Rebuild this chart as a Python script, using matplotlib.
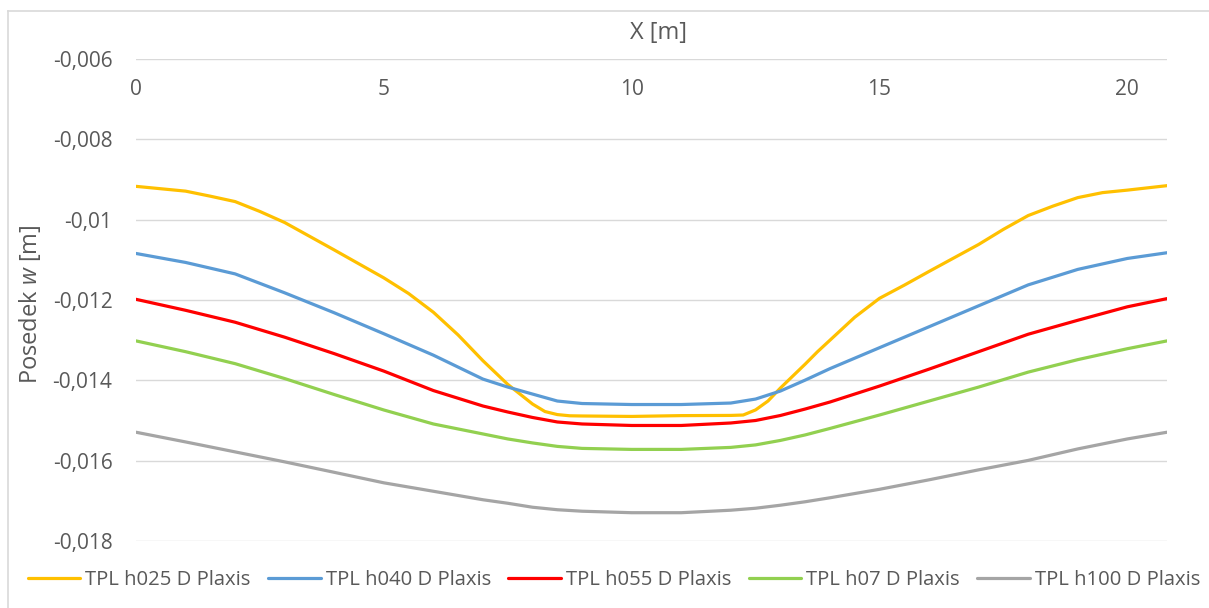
import matplotlib
matplotlib.use("Agg")
import matplotlib.pyplot as plt
from matplotlib.ticker import FuncFormatter
from matplotlib.lines import Line2D

# ---- data ----
x_h025 = [0, 1, 1.5, 2, 2.5, 3, 4, 5, 5.5, 6, 6.5, 7, 7.5, 8, 8.25, 8.5, 8.75,
          9, 10, 11, 12, 12.25, 12.5, 12.75, 13, 13.25, 13.5, 13.75, 14, 14.5,
          15, 15.5, 16, 17, 17.5, 18, 18.5, 19, 19.5, 20, 20.8]
h025 = [-0.009174, -0.009293, -0.009419, -0.009553, -0.009799, -0.010074,
        -0.010756, -0.011450, -0.011839, -0.012305, -0.012871, -0.013511,
        -0.014098, -0.014587, -0.014773, -0.014849, -0.014879, -0.014884,
        -0.014895, -0.014875, -0.014870, -0.014860, -0.014733, -0.014512,
        -0.014190, -0.013892, -0.013595, -0.013285, -0.013000, -0.012429,
        -0.011958, -0.011631, -0.011289, -0.010619, -0.010243, -0.009900,
        -0.009665, -0.009454, -0.009330, -0.009268, -0.009157]

x_m = [0, 1, 2, 3, 4, 5, 6, 7, 7.5, 8, 8.5, 9, 10, 11, 12, 12.5, 13, 13.5,
       14, 15, 16, 17, 18, 19, 20, 20.8]

h040 = [-0.010843, -0.011066, -0.011351, -0.011822, -0.012318, -0.012839,
        -0.013372, -0.013967, -0.014165, -0.014339, -0.014512, -0.014574,
        -0.014599, -0.014599, -0.014562, -0.014463, -0.014264, -0.013992,
        -0.013707, -0.013186, -0.012665, -0.012144, -0.011624, -0.011239,
        -0.010967, -0.010825]

h055 = [-0.011983, -0.012256, -0.012553, -0.012925, -0.013334, -0.013768,
        -0.014252, -0.014636, -0.014785, -0.014921, -0.015033, -0.015083,
        -0.015120, -0.015120, -0.015058, -0.014996, -0.014872, -0.014711,
        -0.014537, -0.014140, -0.013719, -0.013285, -0.012851, -0.012504,
        -0.012169, -0.011966]

h07 = [-0.013017, -0.013285, -0.013583, -0.013954, -0.014351, -0.014735,
       -0.015083, -0.015331, -0.015455, -0.015554, -0.015640, -0.015690,
       -0.015715, -0.015715, -0.015665, -0.015603, -0.015492, -0.015355,
       -0.015194, -0.014860, -0.014512, -0.014165, -0.013793, -0.013483,
       -0.013211, -0.013017]

h100 = [-0.015288, -0.015529, -0.015777, -0.016025, -0.016285, -0.016546,
        -0.016756, -0.016967, -0.017054, -0.017153, -0.017215, -0.017252,
        -0.017289, -0.017289, -0.017227, -0.017178, -0.017103, -0.017017,
        -0.016918, -0.016707, -0.016471, -0.016223, -0.015988, -0.015703,
        -0.015455, -0.015288]

series_labels = ["TPL h025 D Plaxis", "TPL h040 D Plaxis", "TPL h055 D Plaxis",
                 "TPL h07 D Plaxis", "TPL h100 D Plaxis"]
series_colors = ["#FFC000", "#5B9BD5", "#FF0000", "#92D050", "#A5A5A5"]

x_ticks = [0, 5, 10, 15, 20]
y_ticks = [-0.006, -0.008, -0.010, -0.012, -0.014, -0.016, -0.018]

# ---- style ----
plt.rcParams['font.family'] = ['Open Sans', 'DejaVu Sans']
plt.rcParams['mathtext.fontset'] = 'custom'
plt.rcParams['mathtext.it'] = 'Open Sans:italic'
plt.rcParams['mathtext.rm'] = 'Open Sans'
TXT = "#595959"
GRID = "#D9D9D9"
FS_TICK = 15
FS_LEG = 14.6
FS_TITLE = 17

W, H = 1209, 608
fig = plt.figure(figsize=(W / 100, H / 100), dpi=100)
ax = fig.add_axes([136 / W, 1 - 541.3 / H, (1167 - 136) / W, (541.3 - 58.7) / H])

xs_all = [x_h025, x_m, x_m, x_m, x_m]
ys_all = [h025, h040, h055, h07, h100]
for xs, ys, lab, col in zip(xs_all, ys_all, series_labels, series_colors):
    ax.plot(xs, ys, color=col, lw=2.3, label=lab, solid_capstyle='round',
            solid_joinstyle='round', zorder=3)

ax.set_xlim(0, 20.8)
ax.set_ylim(-0.018, -0.006)
ax.set_yticks(y_ticks)
ax.set_xticks(x_ticks)
ax.yaxis.set_major_formatter(FuncFormatter(lambda v, p: ('%g' % v).replace('.', ',')))
ax.xaxis.set_major_formatter(FuncFormatter(lambda v, p: '%g' % v))
ax.grid(axis='y', color=GRID, lw=1.0, zorder=0)
ax.grid(axis='x', visible=False)
for s in ax.spines.values():
    s.set_visible(False)
ax.tick_params(axis='y', length=0, pad=17, labelsize=FS_TICK, labelcolor=TXT)
ax.tick_params(axis='x', length=0, top=True, bottom=False, labeltop=True,
               labelbottom=False, pad=-30, labelsize=FS_TICK, labelcolor=TXT)

fig.text(659 / W, 1 - 33 / H, "X [m]", ha='center', va='center', fontsize=FS_TITLE, color=TXT)
fig.text(30 / W, 1 - 304 / H, "Posedek $w$ [m]", ha='center', va='center',
         rotation=90, fontsize=FS_TITLE, color=TXT)

# outer chart border
fig.add_artist(Line2D([8 / W, 1.0], [1 - 10.5 / H, 1 - 10.5 / H], color=GRID, lw=1.2,
                      transform=fig.transFigure))
fig.add_artist(Line2D([8 / W, 8 / W], [0, 1 - 10.5 / H], color=GRID, lw=1.2,
                      transform=fig.transFigure))

handles, labels = ax.get_legend_handles_labels()
leg = fig.legend(handles, labels, loc='center', bbox_to_anchor=(614 / W, 1 - 580 / H),
                 ncol=5, frameon=False, fontsize=FS_LEG, handlelength=2.6,
                 handletextpad=0.25, columnspacing=0.85, borderaxespad=0, borderpad=0)
for t in leg.get_texts():
    t.set_color(TXT)

fig.savefig("out.png", dpi=100)
